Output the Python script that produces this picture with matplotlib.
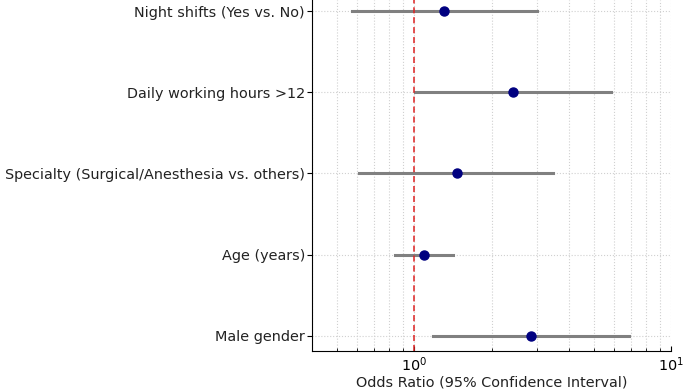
import numpy as np
import matplotlib.pyplot as plt

# forest plot of odds ratios
labels = ["Male gender", "Age (years)",
          "Specialty (Surgical/Anesthesia vs. others)",
          "Daily working hours >12", "Night shifts (Yes vs. No)"]
odds = [2.85, 1.09, 1.46, 2.42, 1.30]
ci_low = [1.18, 0.84, 0.61, 1.01, 0.57]
ci_high = [6.87, 1.41, 3.47, 5.81, 3.00]

fig = plt.figure(figsize=(6.85, 3.91), dpi=100)
ax = fig.add_axes([0.4555, 0.1023, 0.5245, 0.8977])

ypos = np.arange(len(labels))
for y, lo, hi in zip(ypos, ci_low, ci_high):
    ax.plot([lo, hi], [y, y], color="grey", lw=2.2, zorder=2)
ax.plot(odds, ypos, "o", color="navy", ms=6.5, zorder=3)
ax.axvline(1, color="#dd2222", linestyle=(0, (4, 2.5)), lw=1.1, zorder=2)

ax.set_xscale("log")
ax.set_xlim(0.4, 10)
ax.set_ylim(-0.19, 4.14)
ax.set_yticks(ypos)
ax.set_yticklabels(labels, fontsize=10.4, color="#222222")
ax.set_xlabel("Odds Ratio (95% Confidence Interval)", fontsize=10.4,
              color="#222222", labelpad=1)
ax.tick_params(axis="x", which="both", direction="in", labelsize=10.4, pad=3)
ax.tick_params(axis="y", direction="out", length=3.5, pad=1.5)

ax.grid(True, which="both", axis="x", linestyle=":", color="#d0d0d0", lw=0.8)
ax.grid(True, which="major", axis="y", linestyle=":", color="#d0d0d0", lw=0.8)
ax.set_axisbelow(True)
ax.spines["top"].set_visible(False)
ax.spines["right"].set_visible(False)

plt.savefig("out.png")
plt.close()
